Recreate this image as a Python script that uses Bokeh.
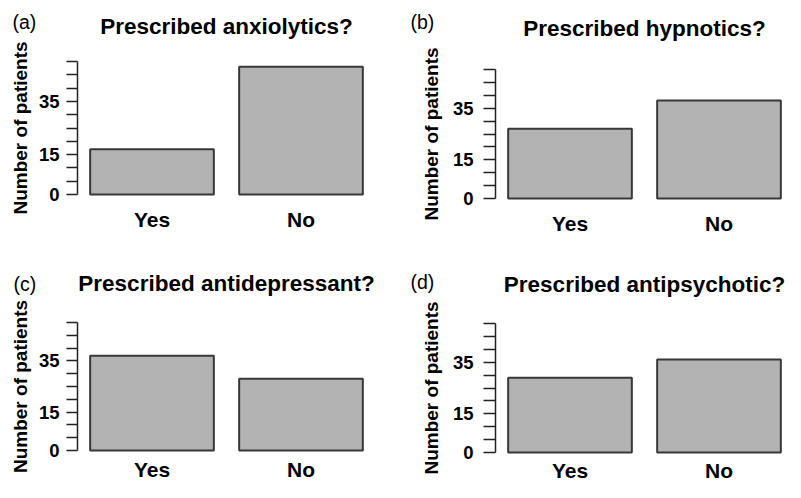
from bokeh.plotting import figure
from bokeh.models import Range1d, FixedTicker, Label, LabelSet, ColumnDataSource
from bokeh.core.properties import value
from bokeh.layouts import column, row
from bokeh.embed import file_html
from bokeh.resources import INLINE

# ---------------- data ----------------
categories = ["Yes", "No"]
panel_tags = ["(a)", "(b)", "(c)", "(d)"]
panel_titles = [
    "Prescribed anxiolytics?",
    "Prescribed hypnotics?",
    "Prescribed antidepressant?",
    "Prescribed antipsychotic?",
]
anxiolytics = [17, 48]
hypnotics = [27, 38]
antidepressant = [37, 28]
antipsychotic = [29, 36]
series = [anxiolytics, hypnotics, antidepressant, antipsychotic]
y_ticks = [0, 5, 10, 15, 20, 25, 30, 35, 40, 45, 50]
y_tick_labels = {0: "0", 15: "15", 35: "35"}
y_label = "Number of patients"
Y_MAX = 50

# ---------------- layout (pixels) ----------------
UNIT = 149  # px per category slot
layouts = [
    dict(ml=77, fw=298, mr=17, mt=61, fh=133, mb=48, tick=11, lst=7, alst=5,
         tag_x=-65, tag_y=173, title_y=168, cat_y=-32),
    dict(ml=103, fw=288, mr=2, mt=69, fh=129, mb=44, tick=12, lst=10, alst=8,
         tag_x=-85, tag_y=177, title_y=170, cat_y=-32),
    dict(ml=77, fw=298, mr=17, mt=80, fh=128, mb=32, tick=11, lst=7, alst=5,
         tag_x=-64, tag_y=167, title_y=167, cat_y=-26),
    dict(ml=103, fw=288, mr=2, mt=81, fh=129, mb=30, tick=12, lst=10, alst=8,
         tag_x=-85, tag_y=171, title_y=168, cat_y=-25),
]

FONT = "Liberation Sans"
BAR_FILL = "#b3b3b3"
BAR_LINE = "#383838"
AXIS_COLOR = "#222222"


def make_panel(i):
    L = layouts[i]
    vals = series[i]
    W = L["ml"] + L["fw"] + L["mr"]
    H = L["mt"] + L["fh"] + L["mb"]
    k = L["fh"] / Y_MAX  # px per patient
    p = figure(
        x_range=Range1d(-L["ml"] / UNIT, (L["fw"] + L["mr"]) / UNIT),
        y_range=Range1d(-L["mb"] / k, Y_MAX + L["mt"] / k),
        frame_width=W, frame_height=H,
        min_border_left=0, min_border_right=0, min_border_top=0, min_border_bottom=0,
        output_backend="svg", toolbar_location=None,
    )
    p.outline_line_color = None
    p.xgrid.visible = False
    p.ygrid.visible = False
    p.background_fill_color = "white"
    p.border_fill_color = "white"

    # one slot per category, bar centred in its slot
    xpos = [j + 0.5 for j in range(len(categories))]
    src = ColumnDataSource(dict(x=xpos, cat=categories, val=vals))
    p.vbar(x="x", top="val", width=0.83, bottom=0, source=src,
           fill_color=BAR_FILL, line_color=BAR_LINE, line_width=2)

    # category labels under the bars
    p.xaxis.visible = False
    p.add_layout(LabelSet(x="x", y=L["mb"] + L["cat_y"], y_units="screen", text="cat",
                          source=src, text_align="center", text_baseline="alphabetic",
                          text_font=value(FONT), text_font_size="21px",
                          text_font_style="bold", text_color="black"))

    # y axis at the left edge of the bar area, spanning 0..50
    ya = p.yaxis[0]
    ya.fixed_location = 0
    ya.bounds = (0, Y_MAX)
    ya.ticker = FixedTicker(ticks=y_ticks, minor_ticks=[])
    ya.major_label_overrides = {t: y_tick_labels.get(t, "") for t in y_ticks}
    ya.major_tick_out = L["tick"]
    ya.major_tick_in = 0
    ya.minor_tick_out = 0
    ya.minor_tick_in = 0
    ya.major_tick_line_color = AXIS_COLOR
    ya.major_tick_line_width = 1.5
    ya.axis_line_color = AXIS_COLOR
    ya.axis_line_width = 1.5
    ya.major_label_standoff = L["lst"]
    ya.major_label_text_font = FONT
    ya.major_label_text_font_size = "18.5px"
    ya.major_label_text_font_style = "bold"
    ya.major_label_text_color = "black"
    ya.axis_label = y_label
    ya.axis_label_standoff = L["alst"]
    ya.axis_label_text_font = FONT
    ya.axis_label_text_font_size = "19px"
    ya.axis_label_text_font_style = "bold"
    ya.axis_label_text_color = "black"

    # panel tag and title
    p.add_layout(Label(x=L["ml"] + L["tag_x"], y=L["mb"] + L["tag_y"],
                       x_units="screen", y_units="screen",
                       text=panel_tags[i], text_font=FONT, text_font_size="19.5px",
                       text_baseline="middle", text_align="left", text_color="black"))
    p.add_layout(Label(x=1.0, y=L["mb"] + L["title_y"], x_units="data", y_units="screen",
                       text=panel_titles[i], text_font=FONT, text_font_size="22.5px",
                       text_font_style="bold", text_align="center",
                       text_baseline="alphabetic", text_color="black"))
    return p


panels = [make_panel(i) for i in range(4)]
layout = column(row(panels[0], panels[1]), row(panels[2], panels[3]))

open("out.html", "w").write(file_html(layout, INLINE))
